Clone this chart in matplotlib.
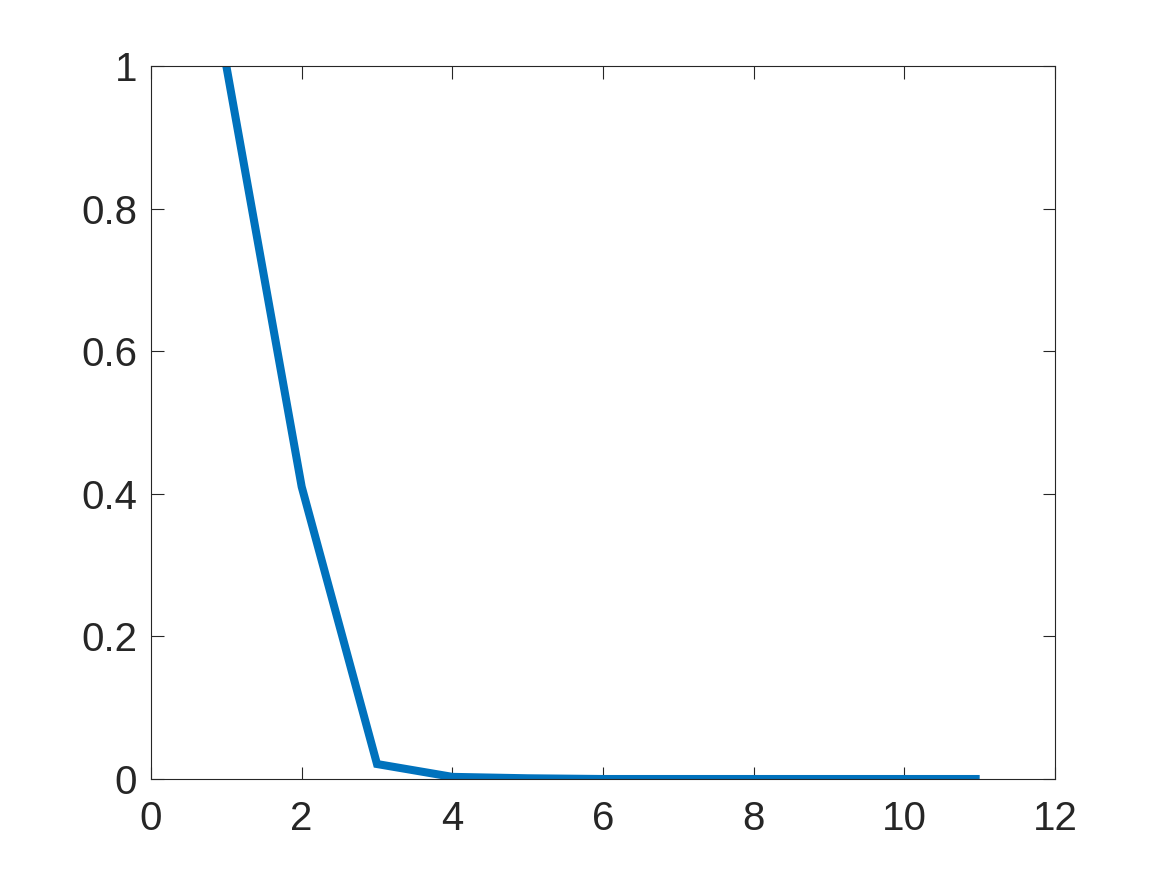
import numpy as np
import matplotlib
matplotlib.use('Agg')
import matplotlib.pyplot as plt

## data
x_data = [1, 2, 3, 4, 5, 6, 7, 8, 9, 10, 11]
y_data = [1.0, 0.41, 0.021, 0.003, 0.001, 0.0, 0.0, 0.0, 0.0, 0.0, 0.0]

x_ticks = [0, 2, 4, 6, 8, 10, 12]
y_ticks = [0, 0.2, 0.4, 0.6, 0.8, 1]
y_labels = ['0', '0.2', '0.4', '0.6', '0.8', '1']

plt.rcParams['font.family'] = ['Liberation Sans', 'DejaVu Sans']
ax_col = '#262626'

fig = plt.figure(figsize=(11.67, 8.75), dpi=100)
ax = fig.add_axes([151/1167, 1 - 779/875, (1055-151)/1167, (779-66)/875])
ax.plot(x_data, y_data, color='#0072BD', linewidth=5.8,
        solid_joinstyle='miter', solid_capstyle='butt')
ax.set_xlim([0, 12])
ax.set_ylim([0, 1])
ax.set_xticks(x_ticks)
ax.set_yticks(y_ticks, y_labels)
ax.tick_params(direction='in', length=9, width=0.8, colors=ax_col, labelsize=29,
               top=True, right=True)
ax.tick_params(axis='x', pad=15)
ax.tick_params(axis='y', pad=10)
for s in ax.spines.values():
    s.set_color(ax_col)
    s.set_linewidth(0.8)

fig.savefig('out.png', dpi=100)
